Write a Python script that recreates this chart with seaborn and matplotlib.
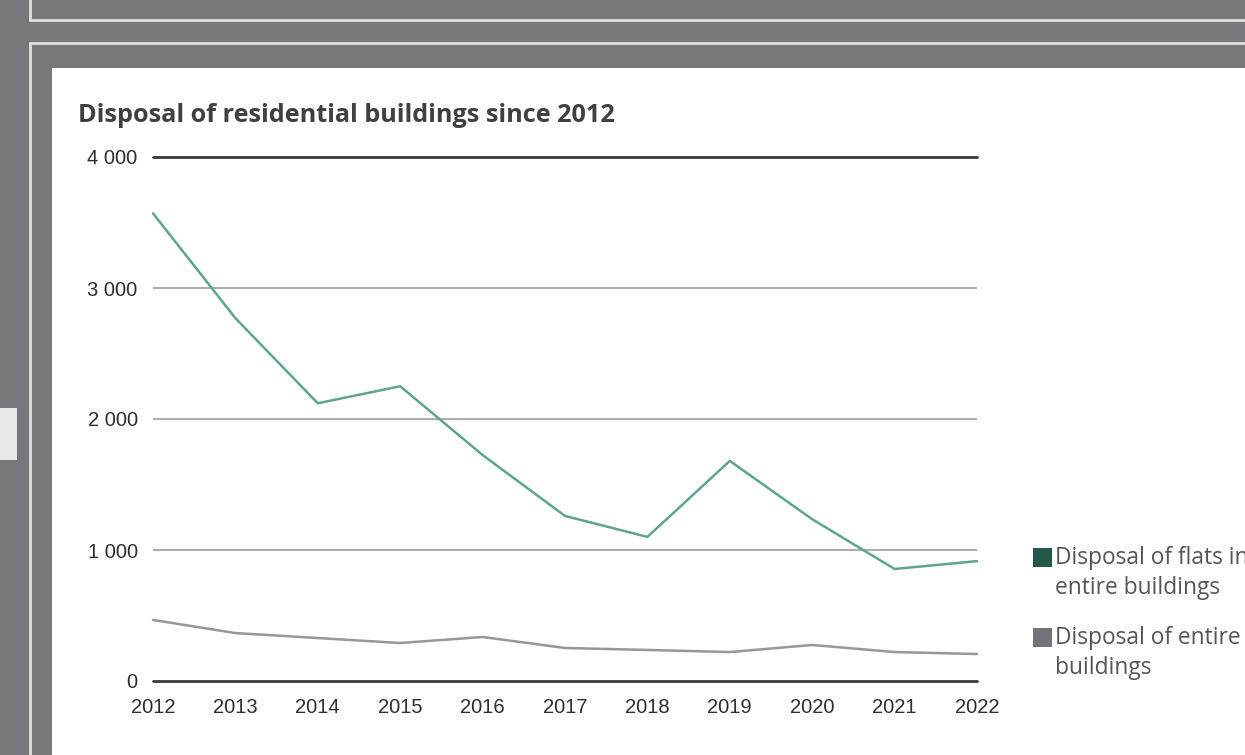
import matplotlib
matplotlib.use("Agg")
import matplotlib.pyplot as plt
import matplotlib.patches as mpatches
from matplotlib.legend_handler import HandlerPatch
from matplotlib.lines import Line2D
import seaborn as sns
import pandas as pd

years = [2012, 2013, 2014, 2015, 2016, 2017, 2018, 2019, 2020, 2021, 2022]
flats_in_entire = [3570, 2770, 2120, 2250, 1725, 1260, 1100, 1680, 1235, 855, 915]
entire_buildings = [466, 366, 328, 290, 336, 252, 237, 221, 275, 221, 206]
series_names = ["Disposal of flats in\nentire buildings", "Disposal of entire\nbuildings"]
title = "Disposal of residential buildings since 2012"
yticks = [0, 1000, 2000, 3000, 4000]
ytick_labels = ["0", "1 000", "2 000", "3 000", "4 000"]

df = pd.DataFrame({
    "year": years * 2,
    "value": flats_in_entire + entire_buildings,
    "series": [series_names[0]] * len(years) + [series_names[1]] * len(years),
})

sns.set_theme(style="white")
plt.rcParams["font.family"] = ["Open Sans", "DejaVu Sans"]

W, H = 1245, 755
fig = plt.figure(figsize=(W / 100, H / 100), dpi=100)
bg = "#77787c"
fig.patch.set_facecolor(bg)

def px_rect(x0, y0, x1, y1, **kw):
    fig.add_artist(mpatches.Rectangle((x0 / W, 1 - y1 / H), (x1 - x0) / W, (y1 - y0) / H,
                                      transform=fig.transFigure, zorder=-5, **kw))

def px_line(x0, y0, x1, y1, **kw):
    fig.add_artist(Line2D([x0 / W, x1 / W], [1 - y0 / H, 1 - y1 / H], transform=fig.transFigure,
                          zorder=-4, **kw))

# frame decorations
px_rect(52, 68, W + 5, H + 5, facecolor="white", edgecolor="none")
px_line(30, 20, W, 20, color="#e2e2e2", lw=2)
px_line(30, 0, 30, 20, color="#e2e2e2", lw=2)
px_line(30, 43, W, 43, color="#e2e2e2", lw=2)
px_line(30, 43, 30, H, color="#e2e2e2", lw=2)
px_rect(0, 408, 17, 460, facecolor="#e9e9e9", edgecolor="none")

ax = fig.add_axes([153 / W, 74 / H, (977 - 153) / W, (598 - 74) / H])
ax.set_facecolor("none")
ax.set_zorder(2)
palette = {series_names[0]: "#5fa58d", series_names[1]: "#96979b"}

for v in [1000, 2000, 3000]:
    ax.axhline(v, color="#a6a6a6", lw=1.3, zorder=0)
for v in [0, 4000]:
    ax.axhline(v, color="#3a3a3a", lw=2, zorder=0, clip_on=False)

sns.lineplot(data=df, x="year", y="value", hue="series", palette=palette, lw=1.8,
             legend=False, ax=ax, clip_on=False)

ax.set_xlim(2012, 2022)
ax.set_ylim(0, 4000)
ax.set_xticks(years)
ax.set_xticklabels([str(y) for y in years], family="Liberation Sans", fontsize=14.5, color="#2e2e2e")
ax.set_yticks(yticks)
ax.set_yticklabels(ytick_labels, family="Liberation Sans", fontsize=14.5, color="#2e2e2e")
ax.tick_params(axis="x", length=0, pad=12)
ax.tick_params(axis="y", length=0, pad=11)
ax.set_xlabel("")
ax.set_ylabel("")
for s in ax.spines.values():
    s.set_visible(False)

fig.text(78 / W, 1 - 116 / H, title, fontsize=18.2, fontweight="bold", color="#404040",
         ha="left", va="center")


def top_square(legend, orig_handle, xdescent, ydescent, width, height, fontsize):
    side = 0.84 * fontsize
    return mpatches.Rectangle((-xdescent, -ydescent + height - side + 0.32 * fontsize), side, side)


handles = [mpatches.Patch(facecolor="#22584a", edgecolor="none"),
           mpatches.Patch(facecolor="#737479", edgecolor="none")]
leg = fig.legend(handles, series_names, loc="upper left",
                 bbox_to_anchor=(1033 / W, 1 - 546 / H), frameon=False,
                 fontsize=16.4, handlelength=0.75, handleheight=2.3, handletextpad=0.2,
                 labelspacing=1.15, borderaxespad=0, borderpad=0,
                 handler_map={mpatches.Patch: HandlerPatch(patch_func=top_square)})
for t in leg.get_texts():
    t.set_color("#555555")
    t.set_linespacing(1.33)

fig.savefig("out.png", dpi=100, facecolor=bg)
